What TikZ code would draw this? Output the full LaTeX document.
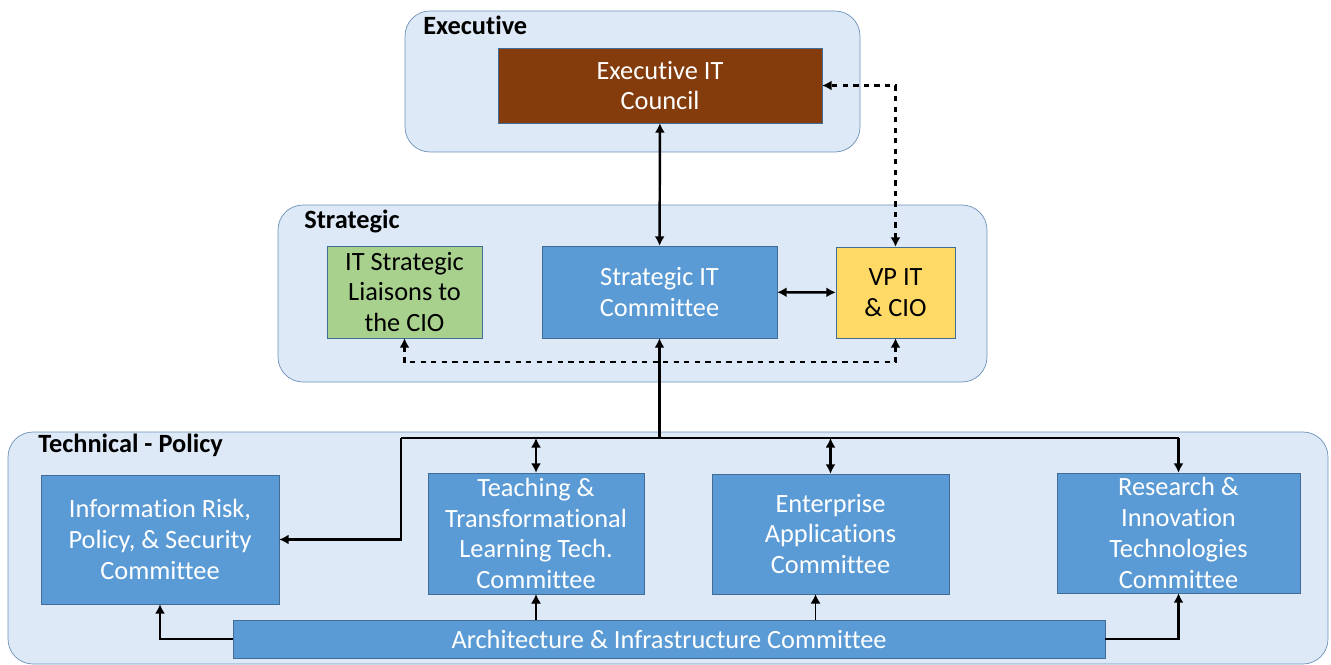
\documentclass[tikz,border=0pt]{standalone}
\usepackage{fontspec}
\setmainfont{Carlito}[Ligatures=CommonOff]
\usepackage{tikz}
\usetikzlibrary{arrows.meta}
\usetikzlibrary{positioning}
\definecolor{panelfill}{RGB}{221,233,246}
\definecolor{paneldraw}{RGB}{110,145,185}
\definecolor{ctblue}{RGB}{91,155,213}
\definecolor{ctbrown}{RGB}{132,60,12}
\definecolor{ctgreen}{RGB}{169,209,142}
\definecolor{ctyellow}{RGB}{255,217,102}
\tikzset{%
  >={Latex[width=2mm,length=1.9mm]},
  % Specifications for style of nodes:
           base/.style = {rectangle, draw=ctblue!70!black, very thin,
                          text centered, align=center, inner sep=1pt,
                          font=\fontsize{15}{17.5}\selectfont},
      committee/.style = {base, fill=ctblue, text=white},
        council/.style = {base, fill=ctbrown, text=white},
        liaison/.style = {base, fill=ctgreen, text=black},
           vpcio/.style = {base, fill=ctyellow, text=black},
          panel/.style = {draw=paneldraw, fill=panelfill, rounded corners=0.5cm},
     paneltitle/.style = {anchor=west, inner sep=0pt, font=\fontsize{15}{17.5}\selectfont\bfseries},
           link/.style = {<->, line width=1.4pt},
}

\begin{document}
\begin{tikzpicture}[x=0.02cm, y=-0.02cm]
\useasboundingbox (0,0) rectangle (1331,665);

% panels
\draw[panel] (405,11) rectangle (860,152);
\draw[panel] (278,205) rectangle (987,382);
\draw[panel] (8,432) rectangle (1328,664);

\node (tExec) [paneltitle] at (423,25)  {Executive};
\node (tStrat) [paneltitle] at (304,221) {Strategic};
\node (tTech) [paneltitle] at (38,445)  {Technical - Policy};

% executive
\node (EITC) [council, minimum width=6.48cm, minimum height=1.5cm] at (660,85.5) {Executive IT\\Council};

% strategic
\node (LIA)  [liaison, minimum width=3.1cm, minimum height=1.84cm] at (404.5,292) {IT Strategic\\Liaisons to\\the CIO};
\node (SITC) [committee, minimum width=4.7cm, minimum height=1.84cm] at (659.5,292) {Strategic IT\\Committee};
\node (VP)   [vpcio, minimum width=2.38cm, minimum height=1.82cm] at (895.5,292.5) {VP IT\\\& CIO};

% technical - policy
\node (IRPS) [committee, minimum width=4.76cm, minimum height=2.58cm] at (160,539.5) {Information Risk,\\Policy, \& Security\\Committee};
\node (TTLT) [committee, minimum width=4.32cm, minimum height=2.42cm] at (536,533.5) {Teaching \&\\Transformational\\Learning Tech.\\Committee};
\node (EAC)  [committee, minimum width=4.74cm, minimum height=2.4cm] at (830.5,534) {Enterprise\\Applications\\Committee};
\node (RITC) [committee, minimum width=4.86cm, minimum height=2.4cm] at (1178.5,533) {Research \&\\Innovation\\Technologies\\Committee};
\node (AIC)  [committee, minimum width=17.44cm, minimum height=0.76cm] at (669,639) {Architecture \& Infrastructure Committee};

\coordinate (bus)  at (659.5,438);
\coordinate (busL) at (401,438);
\coordinate (busR) at (RITC.north |- bus);
\coordinate (eacIn) at ([xshift=-0.3cm]EAC.south);

\draw[link]            (EITC) -- (SITC);
\draw[link, dashed, line width=1.2pt] (VP.north) |- (EITC.east);
\draw[link]            (SITC) -- (VP);
\draw[link, dashed, line width=1.2pt] (LIA.south) -- ++(0,24) -| (VP.south);

\draw[->, line width=1.4pt] (bus) -- (SITC.south);
\draw[line width=1.4pt]     (busL) -- (busR);
\draw[->, line width=1.4pt] (busL) |- (IRPS.east);
\draw[link]                 (TTLT.north |- bus) -- (TTLT.north);
\draw[link]                 (EAC.north |- bus) -- (EAC.north);
\draw[->, line width=1.4pt] (busR) -- (RITC.north);

\draw[->, line width=1.4pt] (AIC.west) -| (IRPS.south);
\draw[->, line width=0.7pt] (TTLT.south |- AIC.north) -- (TTLT.south);
\draw[->, line width=0.7pt] (eacIn |- AIC.north) -- (eacIn);
\draw[->, line width=1.4pt] (AIC.east) -| (RITC.south);
  \end{tikzpicture}
\end{document}
